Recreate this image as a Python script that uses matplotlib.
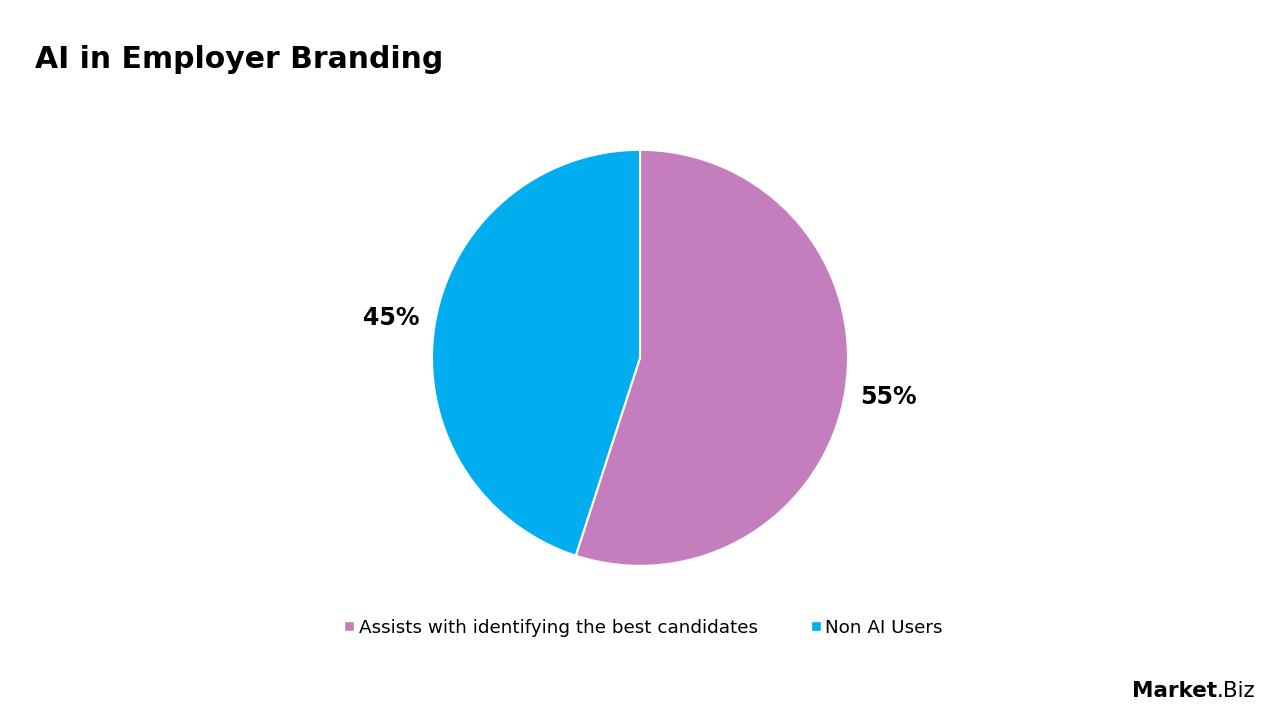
import matplotlib.pyplot as plt
from matplotlib.lines import Line2D

# ===============================
# DATA
# ===============================
categories = ["Assists with identifying the best candidates", "Non AI Users"]
shares = [55, 45]
colors = ["#C47EBD", "#00AEEF"]
title = "AI in Employer Branding"

# ===============================
# FIGURE
# ===============================
fig = plt.figure(figsize=(12.8, 7.2), dpi=100)
fig.patch.set_facecolor("white")

ax = fig.add_axes([0.5 - 0.325 / 2, 0.503 - 0.578 / 2, 0.325, 0.578])
wedges, texts = ax.pie(
    shares,
    colors=colors,
    startangle=90,
    counterclock=False,
    radius=1.0,
    labels=[f"{v}%" for v in shares],
    labeldistance=1.21,
    wedgeprops=dict(edgecolor="white", linewidth=1.5),
    textprops=dict(fontsize=17, fontweight="bold", color="black"),
)
for t in texts:
    t.set_ha("center")
    t.set_va("center")
ax.set_xlim(-1, 1)
ax.set_ylim(-1, 1)
ax.set_aspect("equal")

fig.text(0.027, 0.918, title, fontsize=21.5, fontweight="bold", ha="left", va="center")

handles = [Line2D([0], [0], marker="s", color="w", markerfacecolor=c,
                  markersize=7, linestyle="none") for c in colors]
fig.legend(handles, categories, loc="center", bbox_to_anchor=(0.502, 0.128),
           ncol=2, frameon=False, fontsize=13.2, handletextpad=0.1,
           columnspacing=2.8, handlelength=0.8)

# logo
logo = fig.text(0.884, 0.04, "Market", fontsize=15.5, fontweight="bold",
                ha="left", va="center")
ax.annotate(".Biz", xy=(1, 0.5), xycoords=logo, fontsize=15.5,
            ha="left", va="center", annotation_clip=False)

plt.savefig("out.png", dpi=100)
plt.close()
